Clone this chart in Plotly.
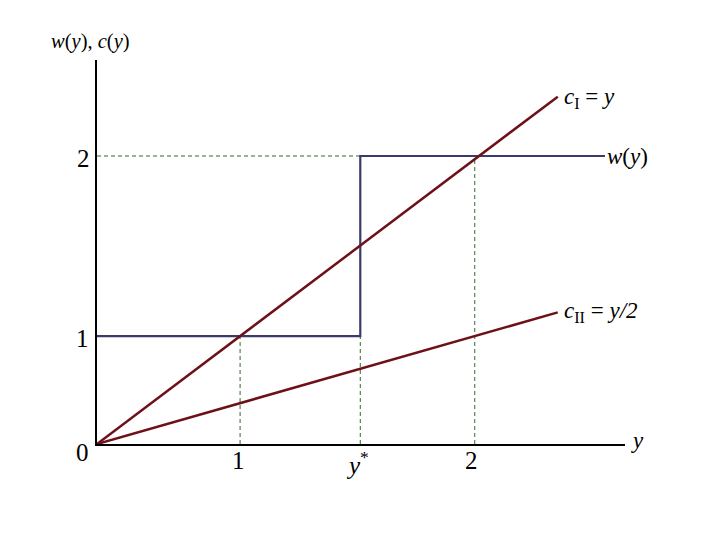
import plotly.graph_objects as go

# positions (units: tick "1" = 1 on each axis)
x_one = 1.0
x_star = 1.84
x_two = 2.64
y_one = 1.0
y_two = 2.67

x_max = 3.69
y_max = 3.56

# lines
c1_x = [0, 3.22]
c1_y = [0, 3.22]
c2_x = [0, 3.22]
c2_y = [0, 1.22]
w_x = [0, x_star, x_star, 3.55]
w_y = [y_one, y_one, y_two, y_two]

red = "#6e1018"
navy = "#3b3b6b"
green = "#2f6a2f"
font = "Liberation Serif"

fig = go.Figure()

# dashed guides
guides = [
    ([0, x_star], [y_two, y_two]),
    ([x_one, x_one], [0, y_one]),
    ([x_star, x_star], [0, y_one]),
    ([x_two, x_two], [0, y_two]),
]
for gx, gy in guides:
    fig.add_trace(go.Scatter(x=gx, y=gy, mode="lines",
                             line=dict(color=green, width=1, dash="4px,3px")))

fig.add_trace(go.Scatter(x=w_x, y=w_y, mode="lines", line=dict(color=navy, width=2.2)))
fig.add_trace(go.Scatter(x=c1_x, y=c1_y, mode="lines", line=dict(color=red, width=2.5)))
fig.add_trace(go.Scatter(x=c2_x, y=c2_y, mode="lines", line=dict(color=red, width=2.5)))

def note(text, x, y, xa="center", ya="middle", xs=0, ys=0, size=25):
    fig.add_annotation(text=text, x=x, y=y, xref="x", yref="y",
                       xanchor=xa, yanchor=ya, xshift=xs, yshift=ys,
                       showarrow=False, font=dict(family=font, size=size, color="black"))

# curve labels
note("<i>c</i><sub>I</sub> = <i>y</i>", c1_x[1], c1_y[1], xa="left", xs=4, ys=-1, size=23)
note("<i>w</i>(<i>y</i>)", w_x[-1], w_y[-1], xa="left", xs=0, size=23)
note("<i>c</i><sub>II</sub> = <i>y/2</i>", c2_x[1], c2_y[1], xa="left", xs=4, size=23)
note("<i>y</i>", x_max, 0, xa="left", xs=4, ys=4, size=23)
note("<i>w</i>(<i>y</i>), <i>c</i>(<i>y</i>)", 0, y_max, xa="left", xs=-48, ys=19, size=20.5)

# tick labels
note("2", 0, y_two, xa="right", xs=-5, ys=-2)
note("1", 0, y_one, xa="right", xs=-6, ys=-2)
note("0", 0, 0, xa="right", xs=-6, ys=-8)
note("1", x_one, 0, ya="top", xs=-2, ys=-1)
note("<i>y</i><sup>*</sup>", x_star, 0, ya="top", xs=-3, ys=-1)
note("2", x_two, 0, ya="top", xs=-3, ys=-1)

fig.update_layout(
    width=720, height=540,
    margin=dict(l=89, r=103, t=52, b=104),
    plot_bgcolor="white", paper_bgcolor="white",
    showlegend=False,
    xaxis=dict(range=[0, x_max], showgrid=False, zeroline=False, showticklabels=False,
               showline=True, linecolor="black", linewidth=1.5, ticks=""),
    yaxis=dict(range=[0, y_max], showgrid=False, zeroline=False, showticklabels=False,
               showline=True, linecolor="black", linewidth=1.5, ticks=""),
)

fig.write_html("out.html")
